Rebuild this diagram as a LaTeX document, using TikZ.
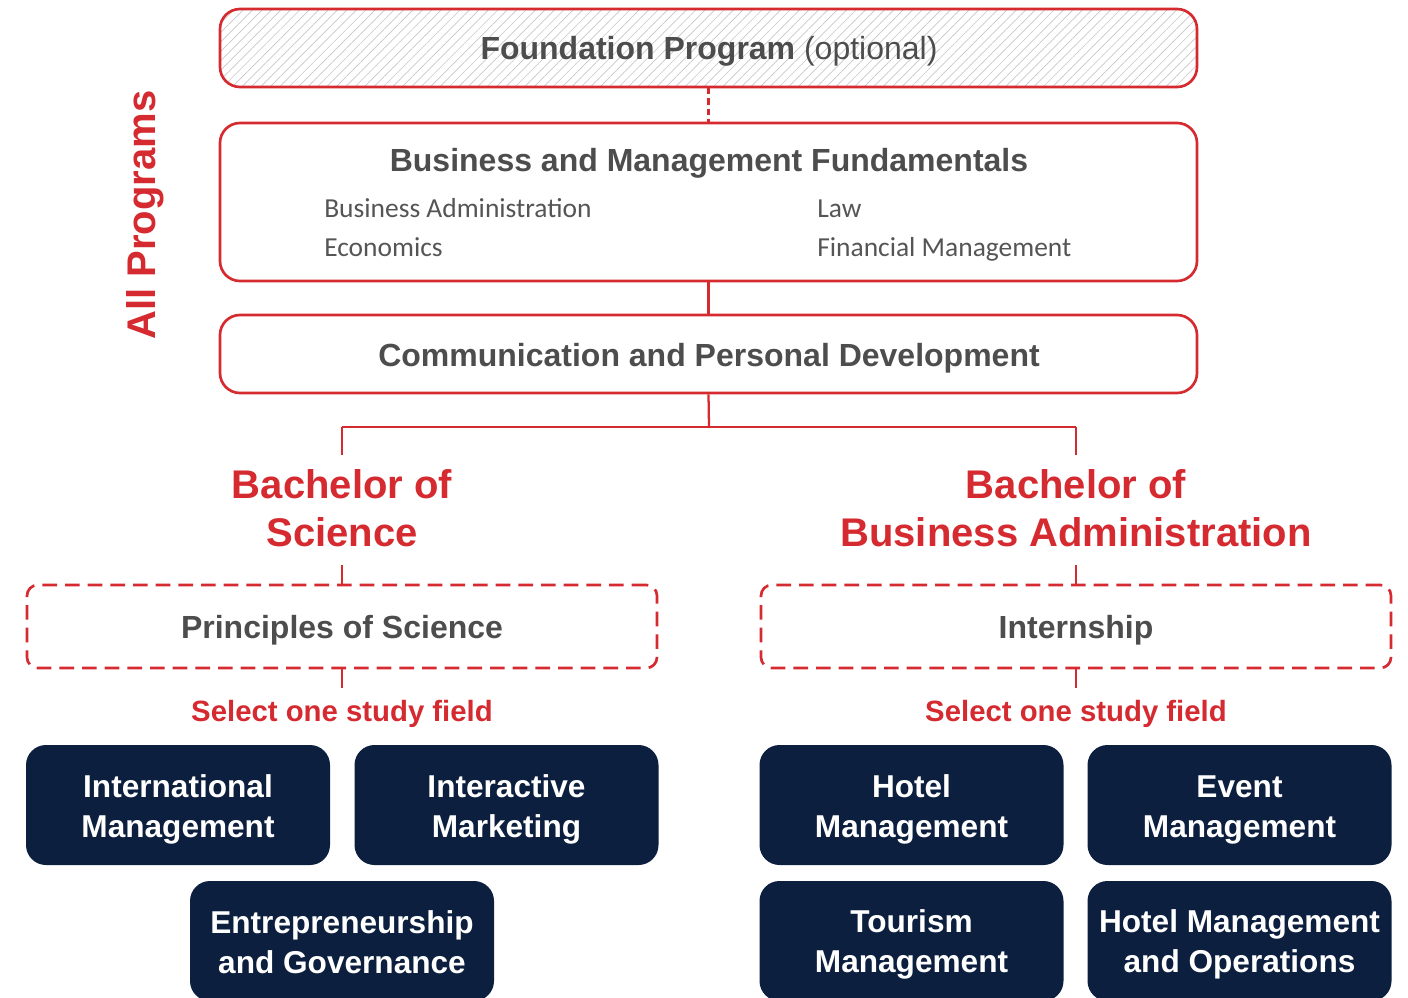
\documentclass[tikz,border=0pt]{standalone}
\usepackage{fontspec}
\setmainfont{Liberation Sans}
\newfontfamily\subfont{Carlito}
\usetikzlibrary{patterns.meta}
\definecolor{cred}{HTML}{D42A30}
\definecolor{cgray}{HTML}{4D4D4D}
\definecolor{csub}{HTML}{555555}
\definecolor{cnavy}{HTML}{0C1F3F}
\begin{document}
\begin{tikzpicture}[x=0.75pt,y=-0.75pt,
  redbox/.style={draw=cred, line width=2pt, rounded corners=15pt, minimum width=977*0.75pt, inner sep=0pt},
  dashbox/.style={draw=cred, line width=2pt, dash pattern=on 11pt off 6pt, rounded corners=8pt,
     minimum width=630*0.75pt, minimum height=83*0.75pt, inner sep=0pt},
  dashtext/.style={text=cgray, font=\fontsize{24}{29}\selectfont\bfseries, inner sep=0pt},
  navybox/.style={fill=cnavy, rounded corners=15pt, minimum width=304*0.75pt, minimum height=120*0.75pt, inner sep=0pt},
  navytext/.style={text=white, font=\fontsize{23.7}{30}\selectfont\bfseries, align=center, inner sep=0pt},
  title/.style={text=cgray, font=\fontsize{24}{29}\selectfont\bfseries, inner sep=0pt},
  subitem/.style={text=csub, font=\subfont\fontsize{20.6}{24}\selectfont, inner sep=0pt, anchor=base west},
  degree/.style={text=cred, font=\fontsize{30}{36}\selectfont\bfseries, align=center, inner sep=0pt},
  select/.style={text=cred, font=\fontsize{22}{26}\selectfont\bfseries, inner sep=0pt},
  conn/.style={draw=cred, line width=1.7pt},
]
\useasboundingbox (0,0) rectangle (1408,998);

% top boxes
\node[redbox, minimum height=78*0.75pt, pattern={Lines[angle=45,distance=5pt,line width=0.5pt]}, pattern color=black!22] (found) at (708.5,48) {};
\node[title, anchor=base] (foundt) at (709,60) {Foundation Program \mdseries(optional)};

\node[redbox, minimum height=158*0.75pt] (bmf) at (708.5,202) {};
\node[title, anchor=base] (bmft) at (709,172) {Business and Management Fundamentals};
\node[subitem] (s1) at (324,218) {Business Administration};
\node[subitem] (s2) at (324,257) {Economics};
\node[subitem] (s3) at (817,218) {Law};
\node[subitem] (s4) at (817,257) {Financial Management};

\node[redbox, minimum height=78*0.75pt] (cpd) at (708.5,354) {};
\node[title, anchor=base] (cpdt) at (709,366) {Communication and Personal Development};

\node[text=cred, font=\fontsize{30}{36}\selectfont\bfseries, rotate=90, inner sep=0pt] (allp) at (145,215) {All Programs};

% degrees
\node[degree] (bsc) at (342,508) {Bachelor of\\Science};
\node[degree] (bba) at (1076,508) {Bachelor of\\Business Administration};

\node[dashbox] (psci) at (342,626.5) {};
\node[dashbox] (intern) at (1076,626.5) {};
\node[dashtext] (pscit) at (342,630.5) {Principles of Science};
\node[dashtext] (interntt) at (1076,630.5) {Internship};

\node[select] (sel1) at (342,714) {Select one study field};
\node[select] (sel2) at (1076,714) {Select one study field};

% study fields
\node[navybox] (f1) at (178,805) {};
\node[navybox] (f2) at (506.5,805) {};
\node[navybox] (f3) at (342,941) {};
\node[navybox] (f4) at (911.5,805) {};
\node[navybox] (f5) at (1239.5,805) {};
\node[navybox] (f6) at (911.5,941) {};
\node[navybox] (f7) at (1239.5,941) {};
\node[navytext] (t1) at (178,809) {International\\Management};
\node[navytext] (t2) at (506.5,809) {Interactive\\Marketing};
\node[navytext] (t3) at (342,942) {Entrepreneurship\\and Governance};
\node[navytext] (t4) at (911.5,809) {Hotel\\Management};
\node[navytext] (t5) at (1239.5,810) {Event\\Management};
\node[navytext] (t6) at (911.5,944) {Tourism\\Management};
\node[navytext] (t7) at (1239.5,944) {Hotel Management\\and Operations};

% connectors
\coordinate (j) at (709,427);
\coordinate (jl) at (342,427);
\coordinate (jr) at (1076,427);
\coordinate (bsctop) at (342,455);
\coordinate (bbatop) at (1076,455);
\coordinate (bscbot) at (342,565);
\coordinate (bbabot) at (1076,565);
\coordinate (sel1top) at (342,688);
\coordinate (sel2top) at (1076,688);

\draw[conn, dash pattern=on 5pt off 3pt] (found.south) -- (bmf.north);
\draw[conn] (bmf.south) -- (cpd.north);
\draw[conn] (cpd.south) -- (j);
\draw[conn] (jl) -- (jr);
\draw[conn] (jl) -- (bsctop);
\draw[conn] (jr) -- (bbatop);
\draw[conn] (bscbot) -- (psci.north);
\draw[conn] (bbabot) -- (intern.north);
\draw[conn] (psci.south) -- (sel1top);
\draw[conn] (intern.south) -- (sel2top);
\end{tikzpicture}
\end{document}
